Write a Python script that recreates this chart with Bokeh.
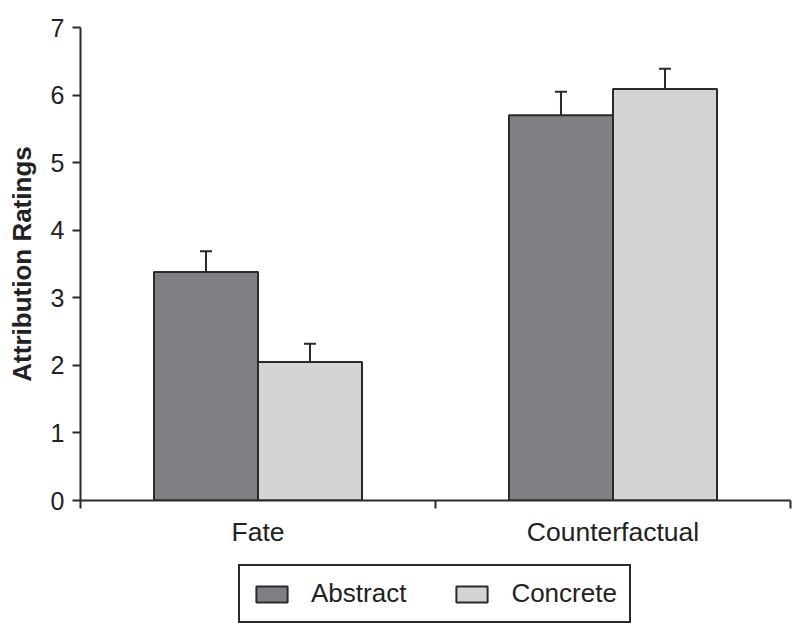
import numpy as np
from bokeh.plotting import figure
from bokeh.layouts import column
from bokeh.models import (ColumnDataSource, Range1d, FixedTicker, Whisker, TeeHead,
                          Legend, LegendItem)
from bokeh.embed import file_html
from bokeh.resources import INLINE

categories = ["Fate", "Counterfactual"]
series = ["Abstract", "Concrete"]
abstract_means = [3.38, 5.70]
concrete_means = [2.05, 6.09]
abstract_err = [0.31, 0.35]
concrete_err = [0.27, 0.30]
y_ticks = [0, 1, 2, 3, 4, 5, 6, 7]

colors = {"Abstract": "#7f8084", "Concrete": "#d3d4d6"}
outline = "#2a2a2a"
FONT = "Liberation Sans"

bar_w = 0.293
centers = np.arange(len(categories)) + 0.5

p = figure(width=798, height=556, output_backend="svg", toolbar_location=None,
           x_range=Range1d(0, len(categories)), y_range=Range1d(0, 7),
           min_border_left=80, min_border_top=27, min_border_right=8,
           min_border_bottom=56)
p.outline_line_color = None
p.grid.visible = False
p.background_fill_color = "white"
p.border_fill_color = "white"

series_data = {}
for name, means, errs, off in [("Abstract", abstract_means, abstract_err, -bar_w / 2),
                               ("Concrete", concrete_means, concrete_err, bar_w / 2)]:
    xs = centers + off
    data = dict(x=xs, top=means, upper=np.array(means) + np.array(errs))
    series_data[name] = data
    src = ColumnDataSource(data)
    p.vbar(x="x", top="top", bottom=0, width=bar_w, source=src,
           fill_color=colors[name], line_color=outline, line_width=2)
    w = Whisker(base="x", lower="top", upper="upper", source=src,
                line_color=outline, line_width=2, lower_head=None,
                upper_head=TeeHead(size=12, line_color=outline, line_width=2))
    p.add_layout(w)

# x axis: labels at category centres, ticks at category boundaries
xa = p.xaxis[0]
xa.ticker = FixedTicker(ticks=list(centers),
                        minor_ticks=list(np.arange(len(categories) + 1)))
xa.major_label_overrides = {float(c): cat for c, cat in zip(centers, categories)}
xa.major_tick_line_color = None
xa.minor_tick_line_color = outline
xa.minor_tick_line_width = 2
xa.minor_tick_out = 8
xa.minor_tick_in = 0
xa.axis_line_color = outline
xa.axis_line_width = 2
xa.major_label_text_font = FONT
xa.major_label_text_font_size = "26.5px"
xa.major_label_text_color = "#222222"
xa.major_label_standoff = 8

ya = p.yaxis[0]
ya.ticker = FixedTicker(ticks=y_ticks, minor_ticks=[])
ya.axis_line_color = outline
ya.axis_line_width = 2
ya.major_tick_line_color = outline
ya.major_tick_line_width = 2
ya.major_tick_out = 8
ya.major_tick_in = 0
ya.major_label_text_font = FONT
ya.major_label_text_font_size = "25px"
ya.major_label_text_color = "#222222"
ya.major_label_standoff = 8
ya.axis_label = "Attribution Ratings"
ya.axis_label_text_font = FONT
ya.axis_label_text_font_style = "bold"
ya.axis_label_text_font_size = "26px"
ya.axis_label_text_color = "#222222"
ya.axis_label_standoff = 11

# separate strip holding the legend (below the chart)
p2 = figure(width=798, height=76, output_backend="svg", toolbar_location=None,
            x_range=Range1d(0, 1), y_range=Range1d(0, 1),
            x_axis_location=None, y_axis_location=None,
            min_border_left=0, min_border_right=0, min_border_top=0,
            min_border_bottom=0)
p2.outline_line_color = None
p2.grid.visible = False
p2.background_fill_color = "white"
p2.border_fill_color = "white"

# hidden renderers that only supply the legend swatches
swatches = {}
for name in series:
    swatches[name] = p2.vbar(x="x", top="top", bottom=0, width=bar_w,
                             source=ColumnDataSource(series_data[name]),
                             fill_color=colors[name], line_color=outline,
                             line_width=2, visible=False)

legend = Legend(items=[LegendItem(label=s, renderers=[swatches[s]]) for s in series],
                orientation="horizontal", location=(158, 9),
                glyph_width=39, glyph_height=20, label_standoff=20, spacing=46,
                padding=12, margin=0,
                label_text_font=FONT, label_text_font_size="26px",
                label_text_color="#222222",
                inactive_fill_alpha=0.0,
                border_line_color=outline, border_line_width=2, border_line_alpha=1.0,
                background_fill_color="white", background_fill_alpha=1.0)
p2.add_layout(legend, "center")

layout = column(p, p2, spacing=0)
open("out.html", "w").write(file_html(layout, INLINE))
